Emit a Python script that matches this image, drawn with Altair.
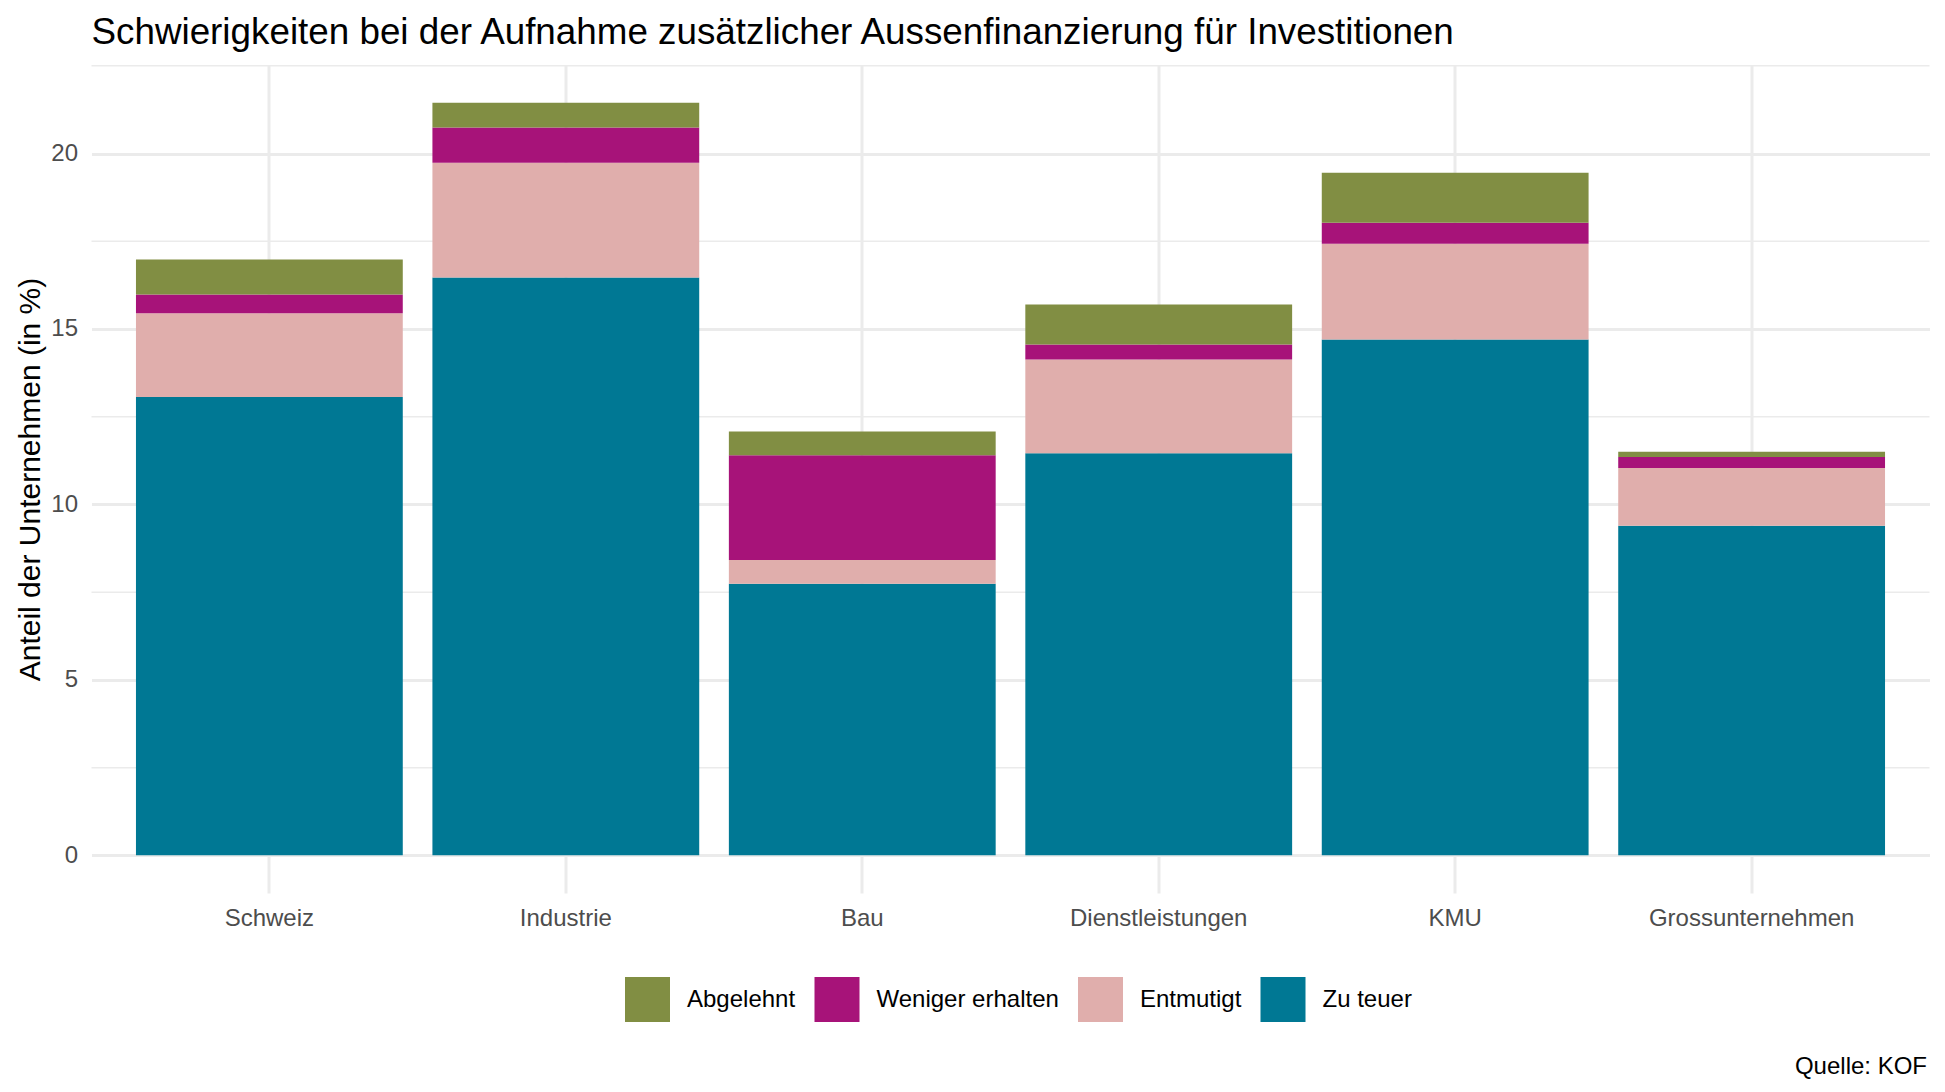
import altair as alt
import pandas as pd

# ---- data ----
categories = ["Schweiz", "Industrie", "Bau", "Dienstleistungen", "KMU", "Grossunternehmen"]
series = ["Abgelehnt", "Weniger erhalten", "Entmutigt", "Zu teuer"]
colors = ["#818E43", "#A71379", "#E0AEAC", "#007894"]

zu_teuer = [13.06, 16.47, 7.74, 11.46, 14.70, 9.39]
entmutigt = [2.39, 3.27, 0.68, 2.67, 2.73, 1.65]
weniger_erhalten = [0.53, 1.00, 2.98, 0.43, 0.60, 0.31]
abgelehnt = [1.00, 0.71, 0.68, 1.14, 1.42, 0.15]

major_ticks = [0, 5, 10, 15, 20]
minor_ticks = [2.5, 7.5, 12.5, 17.5, 22.5]

title_text = "Schwierigkeiten bei der Aufnahme zusätzlicher Aussenfinanzierung für Investitionen"
y_title = "Anteil der Unternehmen (in %)"
caption_text = "Quelle: KOF"

# ---- table ----
stack_rank = {"Zu teuer": 0, "Entmutigt": 1, "Weniger erhalten": 2, "Abgelehnt": 3}
values_by_series = {
    "Zu teuer": zu_teuer,
    "Entmutigt": entmutigt,
    "Weniger erhalten": weniger_erhalten,
    "Abgelehnt": abgelehnt,
}
rows = []
for i, cat in enumerate(categories):
    for s, vals in values_by_series.items():
        rows.append({"Kategorie": cat, "Grund": s, "Wert": vals[i], "Rang": stack_rank[s]})
df = pd.DataFrame(rows)

totals = [sum(v[i] for v in values_by_series.values()) for i in range(len(categories))]
ymax = max(totals)
ydom = [-0.05 * ymax, 1.05 * ymax]

FONT = "Liberation Sans"
GRID = "#EBEBEB"
W, H = 1838, 828

yscale = alt.Scale(domain=ydom, nice=False, zero=False)
yaxis = alt.Axis(
    title=y_title,
    values=major_ticks,
    grid=True,
    gridColor=GRID,
    gridWidth=3,
    domain=False,
    ticks=False,
    tickSize=0,
    labelPadding=14,
    labelFont=FONT,
    labelFontSize=24,
    labelColor="#4D4D4D",
    titleFont=FONT,
    titleFontSize=30,
    titleFontWeight="normal",
    titleColor="black",
    titleAngle=270,
    titleX=-52,
    titleY=H / 2,
    titleAlign="center",
    titleBaseline="alphabetic",
)

minor = alt.Chart(pd.DataFrame({"Wert": minor_ticks})).mark_rule(
    color=GRID, strokeWidth=1.5
).encode(y=alt.Y("Wert:Q", scale=yscale, axis=yaxis))

bars = alt.Chart(df).mark_bar(strokeWidth=0).encode(
    x=alt.X(
        "Kategorie:N",
        sort=categories,
        scale=alt.Scale(paddingInner=0.1, paddingOuter=0.15),
        axis=alt.Axis(
            title=None,
            grid=True,
            gridColor=GRID,
            gridWidth=3,
            bandPosition=0.5,
            domain=False,
            ticks=False,
            tickSize=0,
            labelAngle=0,
            labelPadding=32,
            labelBaseline="alphabetic",
            labelLimit=0,
            labelFont=FONT,
            labelFontSize=24,
            labelColor="#4D4D4D",
        ),
    ),
    y=alt.Y("Wert:Q", stack="zero", scale=yscale, axis=yaxis),
    color=alt.Color(
        "Grund:N",
        scale=alt.Scale(domain=series, range=colors),
        legend=alt.Legend(
            title=None,
            orient="none",
            legendX=533.5,
            legendY=912,
            direction="horizontal",
            symbolType="square",
            symbolSize=2025,
            symbolStrokeWidth=0,
            symbolOpacity=1,
            labelFont=FONT,
            labelFontSize=24,
            labelColor="black",
            labelLimit=0,
            labelOffset=17,
            columnPadding=18.5,
            padding=0,
        ),
    ),
    order=alt.Order("Rang:Q", sort="ascending"),
)

caption = alt.Chart(pd.DataFrame({"t": [caption_text]})).mark_text(
    align="right", baseline="alphabetic", font=FONT, fontSize=24, color="black"
).encode(text="t:N", x=alt.value(1835.5), y=alt.value(1009))

chart = (
    alt.layer(minor, bars, caption)
    .properties(
        width=W,
        height=H,
        background="white",
        title=alt.TitleParams(
            text=title_text,
            anchor="start",
            frame="group",
            font=FONT,
            fontSize=36.8,
            fontWeight="normal",
            color="black",
            offset=26,
            dy=42,
            baseline="alphabetic",
        ),
        autosize=alt.AutoSizeParams(type="none"),
        padding={"left": 83.5, "top": 57, "right": 5, "bottom": 186},
    )
    .configure_view(stroke=None, strokeWidth=0)
)

chart.save("out.html", embed_options={"renderer": "svg", "actions": False})
